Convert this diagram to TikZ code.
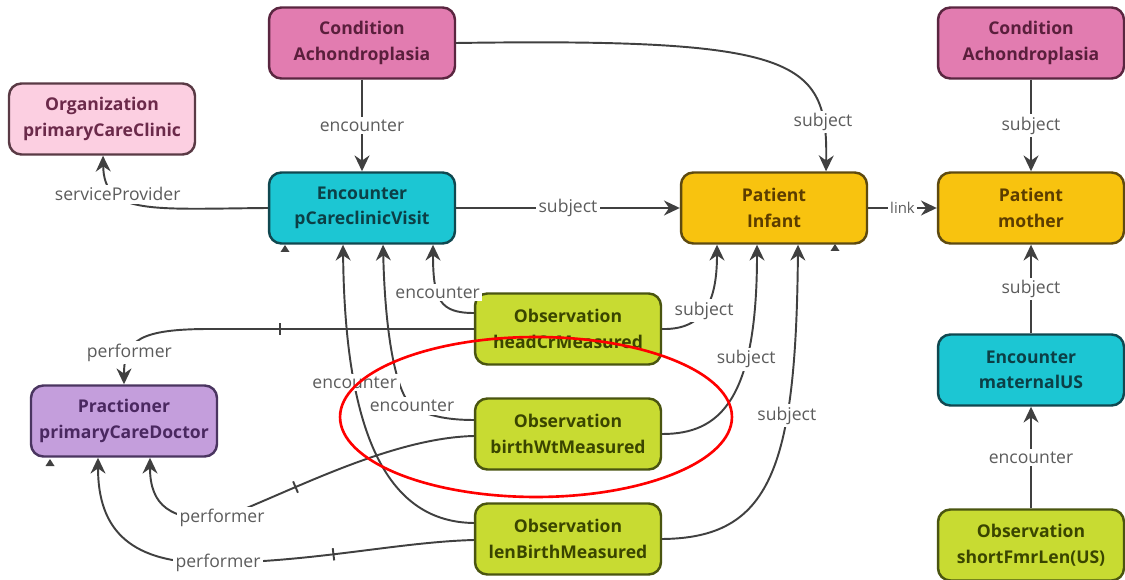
\documentclass[tikz,border=0pt]{standalone}
\usepackage{fontspec}
\setmainfont{Open Sans}
\usetikzlibrary{arrows.meta,calc}
\definecolor{condF}{HTML}{E27CB0}\definecolor{condD}{HTML}{5A2640}\definecolor{condT}{HTML}{5A1F3C}
\definecolor{orgF}{HTML}{FCCFE1}\definecolor{orgD}{HTML}{5A3A45}\definecolor{orgT}{HTML}{6B2A4A}
\definecolor{encF}{HTML}{1CC6D3}\definecolor{encD}{HTML}{104850}\definecolor{encT}{HTML}{0C3F46}
\definecolor{patF}{HTML}{F8C30F}\definecolor{patD}{HTML}{5E4A10}\definecolor{patT}{HTML}{5C3D00}
\definecolor{obsF}{HTML}{C8DB32}\definecolor{obsD}{HTML}{4A5510}\definecolor{obsT}{HTML}{3A4500}
\definecolor{prF}{HTML}{C49EDC}\definecolor{prD}{HTML}{4A3560}\definecolor{prT}{HTML}{4A2860}
\definecolor{ec}{HTML}{404040}\definecolor{lc}{HTML}{5C5C5C}
\tikzset{
  box/.style={rounded corners=7pt, line width=1.4pt, minimum width=3.72cm, minimum height=1.42cm,
    align=center, font=\bfseries\fontsize{10}{14.5}\selectfont, inner sep=2pt},
  cond/.style={box, fill=condF, draw=condD, text=condT},
  org/.style={box, fill=orgF, draw=orgD, text=orgT},
  enc/.style={box, fill=encF, draw=encD, text=encT},
  pat/.style={box, fill=patF, draw=patD, text=patT},
  obs/.style={box, fill=obsF, draw=obsD, text=obsT},
  prac/.style={box, fill=prF, draw=prD, text=prT},
  edge/.style={draw=ec, line width=1.1pt, -{Stealth[length=9pt,width=8.5pt]}},
  lbl/.style={fill=white, text=lc, font=\fontsize{10}{12}\selectfont, inner sep=1.5pt},
  tk/.style={sloped, allow upside down, fill=ec, minimum width=1.1pt, minimum height=7pt, inner sep=0pt},
}
\begin{document}
\begin{tikzpicture}[x=0.02cm,y=0.02cm]
\fill[white] (0,0) rectangle (1125,-580);
\useasboundingbox (0,0) rectangle (1125,-580);

\node[cond] (c1) at (362,-43) {Condition\\Achondroplasia};
\node[org]  (org) at (102,-119) {Organization\\primaryCareClinic};
\node[enc]  (e1) at (362,-208) {Encounter\\pCareclinicVisit};
\node[pat]  (p1) at (774,-208) {Patient\\Infant};
\node[cond] (c2) at (1031,-43) {Condition\\Achondroplasia};
\node[pat]  (p2) at (1031,-208) {Patient\\mother};
\node[enc]  (e2) at (1031,-370) {Encounter\\maternalUS};
\node[obs]  (o4) at (1031,-545) {Observation\\shortFmrLen(US)};
\node[obs]  (o1) at (568,-329) {Observation\\headCrMeasured};
\node[obs]  (o2) at (568,-434) {Observation\\birthWtMeasured};
\node[obs]  (o3) at (568,-539) {Observation\\lenBirthMeasured};
\node[prac] (pr) at (124,-421) {Practioner\\primaryCareDoctor};

% small marks
\fill[ec] (280.5,-252) -- (289.5,-252) -- (285,-245) -- cycle;
\fill[ec] (830.5,-251) -- (839.5,-251) -- (835,-244) -- cycle;
\fill[ec] (45.5,-466) -- (54.5,-466) -- (50,-459) -- cycle;

% top edges
\draw[edge] (c1) -- node[lbl]{encounter} (e1);
\draw[edge] (c1.east) .. controls (800,-38) and (828,-60) .. ($(p1.north)+(52,0)$) node[lbl,pos=0.83]{subject};
\draw[edge] (e1.west) .. controls (150,-209) and (104,-215) .. ($(org.south)+(1,0)$) node[lbl,pos=0.69]{serviceProvider};
\draw[edge] (e1) -- node[lbl]{subject} (p1);
\draw[edge] (p1) -- node[lbl,font=\fontsize{8.5}{10}\selectfont]{link} (p2);
\draw[edge] (c2) -- node[lbl]{subject} (p2);
\draw[edge] (e2) -- node[lbl]{subject} (p2);
\draw[edge] (o4) -- node[lbl]{encounter} (e2);

% headCr
\draw[edge] ($(o1.west)+(0,16)$) .. controls (440,-313) and (433,-300) .. ($(e1.south)+(71,0)$) node[lbl,pos=0.6]{encounter};
\draw[edge] (o1.east) .. controls (705,-330) and (717,-300) .. ($(p1.south)+(-57,0)$) node[lbl,pos=0.47]{subject};
\draw[edge] (o1.west) -- node[tk,pos=0.736]{} (210,-329) .. controls (140,-329) and (124,-340) .. (pr.north) node[lbl,pos=0.7]{performer};

% birthWt
\draw[edge] ($(o2.west)+(0,14)$) .. controls (445,-420) and (425,-415) .. (412,-406) node[lbl]{encounter} .. controls (395,-392) and (385,-330) .. ($(e1.south)+(21,0)$);
\draw[edge] (o2.east) .. controls (720,-434) and (757,-400) .. ($(p1.south)+(-17,0)$) node[lbl,pos=0.68]{subject};
\draw[edge] ($(o2.west)+(0,-2)$) .. controls (390,-438) and (290,-492) .. (222,-518) node[tk,pos=0.68]{} node[lbl]{performer} .. controls (170,-522) and (150,-505) .. ($(pr.south)+(26,0)$);

% lenBirth
\draw[edge] ($(o3.west)+(0,16)$) .. controls (390,-522) and (345,-440) .. ($(e1.south)+(-19,0)$) node[lbl,pos=0.72]{encounter};
\draw[edge] (o3.east) .. controls (770,-538) and (796,-470) .. ($(p1.south)+(24,0)$) node[lbl,pos=0.68]{subject};
\draw[edge] ($(o3.west)+(0,-1)$) .. controls (400,-542) and (320,-561) .. (218,-563) node[tk,pos=0.59]{} node[lbl]{performer} .. controls (130,-565) and (98,-530) .. ($(pr.south)+(-26,0)$);

% red ellipse
\draw[red, line width=1.5pt] (536,-417) ellipse [x radius=3.92cm, y radius=1.6cm];
\end{tikzpicture}
\end{document}
